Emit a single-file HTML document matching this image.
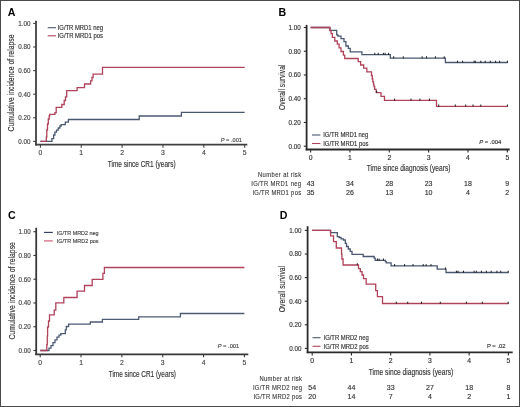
<!DOCTYPE html>
<html><head><meta charset="utf-8"><style>
html,body{margin:0;padding:0;background:#fff;}
body{width:520px;height:407px;overflow:hidden;}
svg{display:block;font-family:"Liberation Sans", sans-serif;will-change:transform;}
</style></head><body>
<svg width="520" height="407" viewBox="0 0 520 407">
<rect x="0" y="0" width="520" height="407" fill="#fff"/>
<g>
<rect x="0.5" y="0.5" width="519" height="406" fill="none" stroke="#4a4a4a" stroke-width="1"/>
<line x1="36.00" y1="20.80" x2="36.00" y2="145.50" stroke="#404040" stroke-width="1.8"/>
<line x1="35.10" y1="144.70" x2="247.30" y2="144.70" stroke="#404040" stroke-width="1.8"/>
<line x1="33.20" y1="141.40" x2="36.00" y2="141.40" stroke="#404040" stroke-width="1.1"/>
<text x="30.40" y="143.70" font-size="6.8" fill="#444" stroke="#444" stroke-width="0.15" text-anchor="end" textLength="12.20" lengthAdjust="spacingAndGlyphs">0.00</text>
<line x1="33.20" y1="117.80" x2="36.00" y2="117.80" stroke="#404040" stroke-width="1.1"/>
<text x="30.40" y="120.10" font-size="6.8" fill="#444" stroke="#444" stroke-width="0.15" text-anchor="end" textLength="12.20" lengthAdjust="spacingAndGlyphs">0.20</text>
<line x1="33.20" y1="94.20" x2="36.00" y2="94.20" stroke="#404040" stroke-width="1.1"/>
<text x="30.40" y="96.50" font-size="6.8" fill="#444" stroke="#444" stroke-width="0.15" text-anchor="end" textLength="12.20" lengthAdjust="spacingAndGlyphs">0.40</text>
<line x1="33.20" y1="70.60" x2="36.00" y2="70.60" stroke="#404040" stroke-width="1.1"/>
<text x="30.40" y="72.90" font-size="6.8" fill="#444" stroke="#444" stroke-width="0.15" text-anchor="end" textLength="12.20" lengthAdjust="spacingAndGlyphs">0.60</text>
<line x1="33.20" y1="47.00" x2="36.00" y2="47.00" stroke="#404040" stroke-width="1.1"/>
<text x="30.40" y="49.30" font-size="6.8" fill="#444" stroke="#444" stroke-width="0.15" text-anchor="end" textLength="12.20" lengthAdjust="spacingAndGlyphs">0.80</text>
<line x1="33.20" y1="23.40" x2="36.00" y2="23.40" stroke="#404040" stroke-width="1.1"/>
<text x="30.40" y="25.70" font-size="6.8" fill="#444" stroke="#444" stroke-width="0.15" text-anchor="end" textLength="12.20" lengthAdjust="spacingAndGlyphs">1.00</text>
<line x1="40.40" y1="144.70" x2="40.40" y2="147.70" stroke="#404040" stroke-width="1.1"/>
<text x="40.40" y="155.30" font-size="6.8" fill="#444" stroke="#444" stroke-width="0.15" text-anchor="middle">0</text>
<line x1="81.26" y1="144.70" x2="81.26" y2="147.70" stroke="#404040" stroke-width="1.1"/>
<text x="81.26" y="155.30" font-size="6.8" fill="#444" stroke="#444" stroke-width="0.15" text-anchor="middle">1</text>
<line x1="122.12" y1="144.70" x2="122.12" y2="147.70" stroke="#404040" stroke-width="1.1"/>
<text x="122.12" y="155.30" font-size="6.8" fill="#444" stroke="#444" stroke-width="0.15" text-anchor="middle">2</text>
<line x1="162.98" y1="144.70" x2="162.98" y2="147.70" stroke="#404040" stroke-width="1.1"/>
<text x="162.98" y="155.30" font-size="6.8" fill="#444" stroke="#444" stroke-width="0.15" text-anchor="middle">3</text>
<line x1="203.84" y1="144.70" x2="203.84" y2="147.70" stroke="#404040" stroke-width="1.1"/>
<text x="203.84" y="155.30" font-size="6.8" fill="#444" stroke="#444" stroke-width="0.15" text-anchor="middle">4</text>
<line x1="244.70" y1="144.70" x2="244.70" y2="147.70" stroke="#404040" stroke-width="1.1"/>
<text x="244.70" y="155.30" font-size="6.8" fill="#444" stroke="#444" stroke-width="0.15" text-anchor="middle">5</text>
<text x="107.80" y="166.60" font-size="8.6" fill="#333" stroke="#333" stroke-width="0.15" textLength="67.80" lengthAdjust="spacingAndGlyphs">Time since CR1 (years)</text>
<text x="0" y="0" font-size="8.6" fill="#333" stroke="#333" stroke-width="0.15" text-anchor="middle" textLength="97.00" lengthAdjust="spacingAndGlyphs" transform="translate(14.10,83.00) rotate(-90)">Cumulative incidence of relapse</text>
<line x1="47.70" y1="27.70" x2="56.00" y2="27.70" stroke="#4a5872" stroke-width="1.1"/>
<text x="57.70" y="29.80" font-size="6.4" fill="#333" stroke="#333" stroke-width="0.15" textLength="45.30" lengthAdjust="spacingAndGlyphs">IG/TR MRD1 neg</text>
<line x1="47.70" y1="35.80" x2="56.00" y2="35.80" stroke="#b0435a" stroke-width="1.1"/>
<text x="57.70" y="37.90" font-size="6.4" fill="#333" stroke="#333" stroke-width="0.15" textLength="45.30" lengthAdjust="spacingAndGlyphs">IG/TR MRD1 pos</text>
<text x="241.90" y="141.70" font-size="6.0" fill="#444" stroke="#444" stroke-width="0.15" text-anchor="end" textLength="21.10" lengthAdjust="spacingAndGlyphs"><tspan font-style="italic">P</tspan> = .001</text>
<text x="7.80" y="15.70" font-size="10.6" fill="#000" font-weight="bold">A</text>
<line x1="306.60" y1="24.90" x2="306.60" y2="150.30" stroke="#2a2a2a" stroke-width="1.8"/>
<line x1="305.70" y1="149.50" x2="509.70" y2="149.50" stroke="#2a2a2a" stroke-width="1.8"/>
<line x1="303.80" y1="146.20" x2="306.60" y2="146.20" stroke="#2a2a2a" stroke-width="1.1"/>
<text x="300.80" y="148.50" font-size="6.8" fill="#333" stroke="#333" stroke-width="0.15" text-anchor="end" textLength="12.20" lengthAdjust="spacingAndGlyphs">0.00</text>
<line x1="303.80" y1="122.46" x2="306.60" y2="122.46" stroke="#2a2a2a" stroke-width="1.1"/>
<text x="300.80" y="124.76" font-size="6.8" fill="#333" stroke="#333" stroke-width="0.15" text-anchor="end" textLength="12.20" lengthAdjust="spacingAndGlyphs">0.20</text>
<line x1="303.80" y1="98.72" x2="306.60" y2="98.72" stroke="#2a2a2a" stroke-width="1.1"/>
<text x="300.80" y="101.02" font-size="6.8" fill="#333" stroke="#333" stroke-width="0.15" text-anchor="end" textLength="12.20" lengthAdjust="spacingAndGlyphs">0.40</text>
<line x1="303.80" y1="74.98" x2="306.60" y2="74.98" stroke="#2a2a2a" stroke-width="1.1"/>
<text x="300.80" y="77.28" font-size="6.8" fill="#333" stroke="#333" stroke-width="0.15" text-anchor="end" textLength="12.20" lengthAdjust="spacingAndGlyphs">0.60</text>
<line x1="303.80" y1="51.24" x2="306.60" y2="51.24" stroke="#2a2a2a" stroke-width="1.1"/>
<text x="300.80" y="53.54" font-size="6.8" fill="#333" stroke="#333" stroke-width="0.15" text-anchor="end" textLength="12.20" lengthAdjust="spacingAndGlyphs">0.80</text>
<line x1="303.80" y1="27.50" x2="306.60" y2="27.50" stroke="#2a2a2a" stroke-width="1.1"/>
<text x="300.80" y="29.80" font-size="6.8" fill="#333" stroke="#333" stroke-width="0.15" text-anchor="end" textLength="12.20" lengthAdjust="spacingAndGlyphs">1.00</text>
<line x1="310.60" y1="149.50" x2="310.60" y2="152.50" stroke="#2a2a2a" stroke-width="1.1"/>
<text x="310.60" y="159.70" font-size="6.8" fill="#333" stroke="#333" stroke-width="0.15" text-anchor="middle">0</text>
<line x1="349.94" y1="149.50" x2="349.94" y2="152.50" stroke="#2a2a2a" stroke-width="1.1"/>
<text x="349.94" y="159.70" font-size="6.8" fill="#333" stroke="#333" stroke-width="0.15" text-anchor="middle">1</text>
<line x1="389.28" y1="149.50" x2="389.28" y2="152.50" stroke="#2a2a2a" stroke-width="1.1"/>
<text x="389.28" y="159.70" font-size="6.8" fill="#333" stroke="#333" stroke-width="0.15" text-anchor="middle">2</text>
<line x1="428.62" y1="149.50" x2="428.62" y2="152.50" stroke="#2a2a2a" stroke-width="1.1"/>
<text x="428.62" y="159.70" font-size="6.8" fill="#333" stroke="#333" stroke-width="0.15" text-anchor="middle">3</text>
<line x1="467.96" y1="149.50" x2="467.96" y2="152.50" stroke="#2a2a2a" stroke-width="1.1"/>
<text x="467.96" y="159.70" font-size="6.8" fill="#333" stroke="#333" stroke-width="0.15" text-anchor="middle">4</text>
<line x1="507.30" y1="149.50" x2="507.30" y2="152.50" stroke="#2a2a2a" stroke-width="1.1"/>
<text x="507.30" y="159.70" font-size="6.8" fill="#333" stroke="#333" stroke-width="0.15" text-anchor="middle">5</text>
<text x="366.70" y="171.20" font-size="8.6" fill="#333" stroke="#333" stroke-width="0.15" textLength="83.70" lengthAdjust="spacingAndGlyphs">Time since diagnosis (years)</text>
<text x="0" y="0" font-size="8.6" fill="#333" stroke="#333" stroke-width="0.15" text-anchor="middle" textLength="45.30" lengthAdjust="spacingAndGlyphs" transform="translate(284.80,87.35) rotate(-90)">Overall survival</text>
<line x1="312.00" y1="135.00" x2="320.40" y2="135.00" stroke="#4a5872" stroke-width="1.1"/>
<text x="323.20" y="137.20" font-size="6.4" fill="#333" stroke="#333" stroke-width="0.15" textLength="45.20" lengthAdjust="spacingAndGlyphs">IG/TR MRD1 neg</text>
<line x1="312.00" y1="143.50" x2="320.40" y2="143.50" stroke="#b0435a" stroke-width="1.1"/>
<text x="323.20" y="145.60" font-size="6.4" fill="#333" stroke="#333" stroke-width="0.15" textLength="45.20" lengthAdjust="spacingAndGlyphs">IG/TR MRD1 pos</text>
<text x="501.20" y="143.70" font-size="6.0" fill="#333" stroke="#333" stroke-width="0.15" text-anchor="end" textLength="22.00" lengthAdjust="spacingAndGlyphs"><tspan font-style="italic">P</tspan> = .004</text>
<text x="278.60" y="15.70" font-size="10.6" fill="#000" font-weight="bold">B</text>
<line x1="36.20" y1="227.80" x2="36.20" y2="355.10" stroke="#383838" stroke-width="1.8"/>
<line x1="35.30" y1="354.30" x2="248.30" y2="354.30" stroke="#383838" stroke-width="1.8"/>
<line x1="33.40" y1="350.50" x2="36.20" y2="350.50" stroke="#383838" stroke-width="1.1"/>
<text x="30.70" y="352.80" font-size="6.8" fill="#444" stroke="#444" stroke-width="0.15" text-anchor="end" textLength="12.20" lengthAdjust="spacingAndGlyphs">0.00</text>
<line x1="33.40" y1="326.74" x2="36.20" y2="326.74" stroke="#383838" stroke-width="1.1"/>
<text x="30.70" y="329.04" font-size="6.8" fill="#444" stroke="#444" stroke-width="0.15" text-anchor="end" textLength="12.20" lengthAdjust="spacingAndGlyphs">0.20</text>
<line x1="33.40" y1="302.98" x2="36.20" y2="302.98" stroke="#383838" stroke-width="1.1"/>
<text x="30.70" y="305.28" font-size="6.8" fill="#444" stroke="#444" stroke-width="0.15" text-anchor="end" textLength="12.20" lengthAdjust="spacingAndGlyphs">0.40</text>
<line x1="33.40" y1="279.22" x2="36.20" y2="279.22" stroke="#383838" stroke-width="1.1"/>
<text x="30.70" y="281.52" font-size="6.8" fill="#444" stroke="#444" stroke-width="0.15" text-anchor="end" textLength="12.20" lengthAdjust="spacingAndGlyphs">0.60</text>
<line x1="33.40" y1="255.46" x2="36.20" y2="255.46" stroke="#383838" stroke-width="1.1"/>
<text x="30.70" y="257.76" font-size="6.8" fill="#444" stroke="#444" stroke-width="0.15" text-anchor="end" textLength="12.20" lengthAdjust="spacingAndGlyphs">0.80</text>
<line x1="33.40" y1="231.70" x2="36.20" y2="231.70" stroke="#383838" stroke-width="1.1"/>
<text x="30.70" y="234.00" font-size="6.8" fill="#444" stroke="#444" stroke-width="0.15" text-anchor="end" textLength="12.20" lengthAdjust="spacingAndGlyphs">1.00</text>
<line x1="40.20" y1="354.30" x2="40.20" y2="357.30" stroke="#383838" stroke-width="1.1"/>
<text x="40.20" y="364.80" font-size="6.8" fill="#444" stroke="#444" stroke-width="0.15" text-anchor="middle">0</text>
<line x1="81.04" y1="354.30" x2="81.04" y2="357.30" stroke="#383838" stroke-width="1.1"/>
<text x="81.04" y="364.80" font-size="6.8" fill="#444" stroke="#444" stroke-width="0.15" text-anchor="middle">1</text>
<line x1="121.88" y1="354.30" x2="121.88" y2="357.30" stroke="#383838" stroke-width="1.1"/>
<text x="121.88" y="364.80" font-size="6.8" fill="#444" stroke="#444" stroke-width="0.15" text-anchor="middle">2</text>
<line x1="162.72" y1="354.30" x2="162.72" y2="357.30" stroke="#383838" stroke-width="1.1"/>
<text x="162.72" y="364.80" font-size="6.8" fill="#444" stroke="#444" stroke-width="0.15" text-anchor="middle">3</text>
<line x1="203.56" y1="354.30" x2="203.56" y2="357.30" stroke="#383838" stroke-width="1.1"/>
<text x="203.56" y="364.80" font-size="6.8" fill="#444" stroke="#444" stroke-width="0.15" text-anchor="middle">4</text>
<line x1="244.40" y1="354.30" x2="244.40" y2="357.30" stroke="#383838" stroke-width="1.1"/>
<text x="244.40" y="364.80" font-size="6.8" fill="#444" stroke="#444" stroke-width="0.15" text-anchor="middle">5</text>
<text x="108.70" y="376.90" font-size="8.6" fill="#333" stroke="#333" stroke-width="0.15" textLength="67.30" lengthAdjust="spacingAndGlyphs">Time since CR1 (years)</text>
<text x="0" y="0" font-size="8.6" fill="#333" stroke="#333" stroke-width="0.15" text-anchor="middle" textLength="97.50" lengthAdjust="spacingAndGlyphs" transform="translate(14.60,290.85) rotate(-90)">Cumulative incidence of relapse</text>
<line x1="44.00" y1="232.40" x2="52.80" y2="232.40" stroke="#2c3560" stroke-width="1.1"/>
<text x="56.80" y="234.70" font-size="5.8" fill="#444" stroke="#444" stroke-width="0.15" textLength="41.70" lengthAdjust="spacingAndGlyphs">IG/TR MRD2 neg</text>
<line x1="44.00" y1="240.90" x2="52.80" y2="240.90" stroke="#d0506e" stroke-width="1.1"/>
<text x="56.80" y="243.20" font-size="5.8" fill="#444" stroke="#444" stroke-width="0.15" textLength="41.70" lengthAdjust="spacingAndGlyphs">IG/TR MRD2 pos</text>
<text x="239.20" y="347.70" font-size="6.0" fill="#444" stroke="#444" stroke-width="0.15" text-anchor="end" textLength="21.50" lengthAdjust="spacingAndGlyphs"><tspan font-style="italic">P</tspan> = .001</text>
<text x="7.90" y="219.30" font-size="10.6" fill="#000" font-weight="bold">C</text>
<line x1="307.60" y1="226.20" x2="307.60" y2="353.20" stroke="#2a2a2a" stroke-width="1.8"/>
<line x1="306.70" y1="352.40" x2="512.70" y2="352.40" stroke="#2a2a2a" stroke-width="1.8"/>
<line x1="304.80" y1="348.40" x2="307.60" y2="348.40" stroke="#2a2a2a" stroke-width="1.1"/>
<text x="301.50" y="350.70" font-size="6.8" fill="#333" stroke="#333" stroke-width="0.15" text-anchor="end" textLength="12.20" lengthAdjust="spacingAndGlyphs">0.00</text>
<line x1="304.80" y1="324.80" x2="307.60" y2="324.80" stroke="#2a2a2a" stroke-width="1.1"/>
<text x="301.50" y="327.10" font-size="6.8" fill="#333" stroke="#333" stroke-width="0.15" text-anchor="end" textLength="12.20" lengthAdjust="spacingAndGlyphs">0.20</text>
<line x1="304.80" y1="301.20" x2="307.60" y2="301.20" stroke="#2a2a2a" stroke-width="1.1"/>
<text x="301.50" y="303.50" font-size="6.8" fill="#333" stroke="#333" stroke-width="0.15" text-anchor="end" textLength="12.20" lengthAdjust="spacingAndGlyphs">0.40</text>
<line x1="304.80" y1="277.60" x2="307.60" y2="277.60" stroke="#2a2a2a" stroke-width="1.1"/>
<text x="301.50" y="279.90" font-size="6.8" fill="#333" stroke="#333" stroke-width="0.15" text-anchor="end" textLength="12.20" lengthAdjust="spacingAndGlyphs">0.60</text>
<line x1="304.80" y1="254.00" x2="307.60" y2="254.00" stroke="#2a2a2a" stroke-width="1.1"/>
<text x="301.50" y="256.30" font-size="6.8" fill="#333" stroke="#333" stroke-width="0.15" text-anchor="end" textLength="12.20" lengthAdjust="spacingAndGlyphs">0.80</text>
<line x1="304.80" y1="230.40" x2="307.60" y2="230.40" stroke="#2a2a2a" stroke-width="1.1"/>
<text x="301.50" y="232.70" font-size="6.8" fill="#333" stroke="#333" stroke-width="0.15" text-anchor="end" textLength="12.20" lengthAdjust="spacingAndGlyphs">1.00</text>
<line x1="312.20" y1="352.40" x2="312.20" y2="355.40" stroke="#2a2a2a" stroke-width="1.1"/>
<text x="312.20" y="362.70" font-size="6.8" fill="#333" stroke="#333" stroke-width="0.15" text-anchor="middle">0</text>
<line x1="351.44" y1="352.40" x2="351.44" y2="355.40" stroke="#2a2a2a" stroke-width="1.1"/>
<text x="351.44" y="362.70" font-size="6.8" fill="#333" stroke="#333" stroke-width="0.15" text-anchor="middle">1</text>
<line x1="390.68" y1="352.40" x2="390.68" y2="355.40" stroke="#2a2a2a" stroke-width="1.1"/>
<text x="390.68" y="362.70" font-size="6.8" fill="#333" stroke="#333" stroke-width="0.15" text-anchor="middle">2</text>
<line x1="429.92" y1="352.40" x2="429.92" y2="355.40" stroke="#2a2a2a" stroke-width="1.1"/>
<text x="429.92" y="362.70" font-size="6.8" fill="#333" stroke="#333" stroke-width="0.15" text-anchor="middle">3</text>
<line x1="469.16" y1="352.40" x2="469.16" y2="355.40" stroke="#2a2a2a" stroke-width="1.1"/>
<text x="469.16" y="362.70" font-size="6.8" fill="#333" stroke="#333" stroke-width="0.15" text-anchor="middle">4</text>
<line x1="508.40" y1="352.40" x2="508.40" y2="355.40" stroke="#2a2a2a" stroke-width="1.1"/>
<text x="508.40" y="362.70" font-size="6.8" fill="#333" stroke="#333" stroke-width="0.15" text-anchor="middle">5</text>
<text x="368.70" y="375.40" font-size="8.6" fill="#333" stroke="#333" stroke-width="0.15" textLength="84.60" lengthAdjust="spacingAndGlyphs">Time since diagnosis (years)</text>
<text x="0" y="0" font-size="8.6" fill="#333" stroke="#333" stroke-width="0.15" text-anchor="middle" textLength="46.30" lengthAdjust="spacingAndGlyphs" transform="translate(285.00,289.05) rotate(-90)">Overall survival</text>
<line x1="312.50" y1="337.70" x2="320.50" y2="337.70" stroke="#4a5872" stroke-width="1.1"/>
<text x="323.50" y="340.00" font-size="6.4" fill="#333" stroke="#333" stroke-width="0.15" textLength="45.30" lengthAdjust="spacingAndGlyphs">IG/TR MRD2 neg</text>
<line x1="312.50" y1="346.30" x2="320.50" y2="346.30" stroke="#b0435a" stroke-width="1.1"/>
<text x="323.50" y="348.60" font-size="6.4" fill="#333" stroke="#333" stroke-width="0.15" textLength="45.30" lengthAdjust="spacingAndGlyphs">IG/TR MRD2 pos</text>
<text x="505.60" y="347.60" font-size="6.0" fill="#333" stroke="#333" stroke-width="0.15" text-anchor="end" textLength="18.70" lengthAdjust="spacingAndGlyphs"><tspan font-style="normal">P</tspan> = .02</text>
<text x="279.80" y="218.90" font-size="10.6" fill="#000" font-weight="bold">D</text>
<path d="M40.40 141.40H51.90V138.70H53.60V135.00H54.90V132.20H56.50V130.10H58.20V128.00H59.90V126.00H61.10V124.60H65.30V122.10H68.40V119.50H139.20V116.00H181.40V112.30H244.70" fill="none" stroke="#4a5872" stroke-width="1.3"/>
<path d="M40.40 141.40H46.30V137.00H46.80V130.00H47.50V124.00H48.30V119.00H49.20V116.00H49.70V114.40H54.90V112.60H56.20V107.30H61.80V104.50H64.20V100.50H65.50V96.90H66.70V90.70H77.10V87.60H84.50V84.00H90.60V80.90H92.00V77.50H93.10V74.10H102.50V67.30H244.70" fill="none" stroke="#b0435a" stroke-width="1.3"/>
<path d="M310.60 27.50H329.90V30.40H336.70V34.90H337.90V36.10H341.00V38.60H344.00V41.70H345.90V46.00H348.30V48.40H350.20V51.90H361.90V54.60H390.30V58.10H445.40V62.50H507.70" fill="none" stroke="#4a5872" stroke-width="1.3"/>
<path d="M310.60 27.50H329.90V30.60H331.10V33.70H332.40V37.40H334.80V41.00H337.30V44.10H339.10V47.80H341.00V51.50H343.40V55.20H344.70V58.50H358.20V61.70H360.60V65.00H363.70V68.20H366.80V71.80H371.50V75.50H372.30V79.00H372.80V81.80H373.50V84.50H374.00V86.50H374.70V89.30H376.20V92.60H381.00V96.30H384.50V100.40H436.50V106.30H507.70" fill="none" stroke="#b0435a" stroke-width="1.3"/>
<rect x="376.10" y="90.80" width="1.0" height="2.0" fill="#1a1a1a"/>
<rect x="394.10" y="98.60" width="1.0" height="2.0" fill="#1a1a1a"/>
<rect x="410.50" y="98.60" width="1.0" height="2.0" fill="#1a1a1a"/>
<rect x="419.40" y="98.60" width="1.0" height="2.0" fill="#1a1a1a"/>
<rect x="428.90" y="98.60" width="1.0" height="2.0" fill="#1a1a1a"/>
<rect x="438.20" y="104.50" width="1.0" height="2.0" fill="#1a1a1a"/>
<rect x="454.80" y="104.50" width="1.0" height="2.0" fill="#1a1a1a"/>
<rect x="465.20" y="104.50" width="1.0" height="2.0" fill="#1a1a1a"/>
<rect x="472.50" y="104.50" width="1.0" height="2.0" fill="#1a1a1a"/>
<rect x="480.30" y="104.50" width="1.0" height="2.0" fill="#1a1a1a"/>
<rect x="506.90" y="104.50" width="1.0" height="2.0" fill="#1a1a1a"/>
<rect x="374.30" y="52.80" width="1.0" height="2.0" fill="#1a1a1a"/>
<rect x="377.70" y="52.80" width="1.0" height="2.0" fill="#1a1a1a"/>
<rect x="382.90" y="52.80" width="1.0" height="2.0" fill="#1a1a1a"/>
<rect x="384.60" y="52.80" width="1.0" height="2.0" fill="#1a1a1a"/>
<rect x="388.10" y="52.80" width="1.0" height="2.0" fill="#1a1a1a"/>
<rect x="393.20" y="56.30" width="1.0" height="2.0" fill="#1a1a1a"/>
<rect x="402.80" y="56.30" width="1.0" height="2.0" fill="#1a1a1a"/>
<rect x="421.60" y="56.30" width="1.0" height="2.0" fill="#1a1a1a"/>
<rect x="426.00" y="56.30" width="1.0" height="2.0" fill="#1a1a1a"/>
<rect x="434.90" y="56.30" width="1.0" height="2.0" fill="#1a1a1a"/>
<rect x="443.70" y="56.30" width="1.0" height="2.0" fill="#1a1a1a"/>
<rect x="457.00" y="60.70" width="1.0" height="2.0" fill="#1a1a1a"/>
<rect x="462.10" y="60.70" width="1.0" height="2.0" fill="#1a1a1a"/>
<rect x="473.60" y="60.70" width="1.0" height="2.0" fill="#1a1a1a"/>
<rect x="474.70" y="60.70" width="1.0" height="2.0" fill="#1a1a1a"/>
<rect x="480.30" y="60.70" width="1.0" height="2.0" fill="#1a1a1a"/>
<rect x="484.70" y="60.70" width="1.0" height="2.0" fill="#1a1a1a"/>
<rect x="489.80" y="60.70" width="1.0" height="2.0" fill="#1a1a1a"/>
<rect x="495.10" y="60.70" width="1.0" height="2.0" fill="#1a1a1a"/>
<rect x="499.10" y="60.70" width="1.0" height="2.0" fill="#1a1a1a"/>
<rect x="506.90" y="60.70" width="1.0" height="2.0" fill="#1a1a1a"/>
<path d="M40.20 350.50H49.00V348.20H51.00V345.60H53.00V342.60H55.00V339.80H57.00V337.20H59.00V335.20H60.80V333.60H65.30V329.80H66.30V326.50H68.60V324.20H90.30V322.00H102.40V319.40H138.70V316.80H180.40V313.50H244.40" fill="none" stroke="#4d5a74" stroke-width="1.3"/>
<path d="M40.20 350.50H46.80V344.60H47.30V336.00H47.60V327.00H48.50V321.00H49.50V314.90H54.20V310.10H55.80V302.90H63.80V297.50H77.10V291.10H84.50V285.50H92.20V279.30H102.90V273.40H104.40V267.50H244.40" fill="none" stroke="#b0435a" stroke-width="1.3"/>
<path d="M312.20 230.40H330.50V232.60H337.30V236.70H339.10V237.50H341.00V238.80H343.40V240.00H345.30V243.40H346.50V246.50H348.30V249.00H350.20V251.40H352.00V254.30H363.20V256.50H374.20V258.20H375.20V260.30H385.40V261.60H386.30V262.80H391.10V265.90H437.20V269.20H446.00V272.50H508.60" fill="none" stroke="#4a5872" stroke-width="1.3"/>
<path d="M312.20 230.40H330.60V235.90H333.50V241.60H336.30V248.00H341.50V254.00H341.90V259.00H343.10V265.00H358.50V268.60H360.30V271.70H362.00V275.00H363.50V278.60H366.20V284.20H375.70V290.60H377.40V296.60H382.50V303.50H508.60" fill="none" stroke="#b0435a" stroke-width="1.3"/>
<rect x="356.80" y="263.20" width="1.0" height="2.0" fill="#1a1a1a"/>
<rect x="395.80" y="301.70" width="1.0" height="2.0" fill="#1a1a1a"/>
<rect x="407.20" y="301.70" width="1.0" height="2.0" fill="#1a1a1a"/>
<rect x="421.00" y="301.70" width="1.0" height="2.0" fill="#1a1a1a"/>
<rect x="439.80" y="301.70" width="1.0" height="2.0" fill="#1a1a1a"/>
<rect x="465.90" y="301.70" width="1.0" height="2.0" fill="#1a1a1a"/>
<rect x="481.80" y="301.70" width="1.0" height="2.0" fill="#1a1a1a"/>
<rect x="507.70" y="301.70" width="1.0" height="2.0" fill="#1a1a1a"/>
<rect x="376.90" y="258.50" width="1.0" height="2.0" fill="#1a1a1a"/>
<rect x="378.60" y="258.50" width="1.0" height="2.0" fill="#1a1a1a"/>
<rect x="382.90" y="258.50" width="1.0" height="2.0" fill="#1a1a1a"/>
<rect x="394.10" y="264.10" width="1.0" height="2.0" fill="#1a1a1a"/>
<rect x="404.10" y="264.10" width="1.0" height="2.0" fill="#1a1a1a"/>
<rect x="412.50" y="264.10" width="1.0" height="2.0" fill="#1a1a1a"/>
<rect x="422.70" y="264.10" width="1.0" height="2.0" fill="#1a1a1a"/>
<rect x="425.60" y="264.10" width="1.0" height="2.0" fill="#1a1a1a"/>
<rect x="430.50" y="264.10" width="1.0" height="2.0" fill="#1a1a1a"/>
<rect x="444.90" y="267.40" width="1.0" height="2.0" fill="#1a1a1a"/>
<rect x="455.90" y="270.70" width="1.0" height="2.0" fill="#1a1a1a"/>
<rect x="457.50" y="270.70" width="1.0" height="2.0" fill="#1a1a1a"/>
<rect x="463.00" y="270.70" width="1.0" height="2.0" fill="#1a1a1a"/>
<rect x="473.60" y="270.70" width="1.0" height="2.0" fill="#1a1a1a"/>
<rect x="475.80" y="270.70" width="1.0" height="2.0" fill="#1a1a1a"/>
<rect x="480.90" y="270.70" width="1.0" height="2.0" fill="#1a1a1a"/>
<rect x="485.80" y="270.70" width="1.0" height="2.0" fill="#1a1a1a"/>
<rect x="490.70" y="270.70" width="1.0" height="2.0" fill="#1a1a1a"/>
<rect x="496.40" y="270.70" width="1.0" height="2.0" fill="#1a1a1a"/>
<rect x="500.20" y="270.70" width="1.0" height="2.0" fill="#1a1a1a"/>
<rect x="507.70" y="270.70" width="1.0" height="2.0" fill="#1a1a1a"/>
<text x="0" y="0" transform="translate(301.10,177.00) scale(0.9,1)" font-size="6.5" fill="#333" stroke="#333" stroke-width="0.1" text-anchor="end" textLength="47.89" lengthAdjust="spacing">Number at risk</text>
<text x="0" y="0" transform="translate(301.10,185.80) scale(0.9,1)" font-size="6.5" fill="#333" stroke="#333" stroke-width="0.1" text-anchor="end" textLength="55.44" lengthAdjust="spacing">IG/TR MRD1 neg</text>
<text x="0" y="0" transform="translate(301.10,194.60) scale(0.9,1)" font-size="6.5" fill="#333" stroke="#333" stroke-width="0.1" text-anchor="end" textLength="54.11" lengthAdjust="spacing">IG/TR MRD1 pos</text>
<text x="310.60" y="185.90" font-size="7.0" fill="#333" stroke="#333" stroke-width="0.15" text-anchor="middle">43</text>
<text x="349.94" y="185.90" font-size="7.0" fill="#333" stroke="#333" stroke-width="0.15" text-anchor="middle">34</text>
<text x="389.28" y="185.90" font-size="7.0" fill="#333" stroke="#333" stroke-width="0.15" text-anchor="middle">28</text>
<text x="428.62" y="185.90" font-size="7.0" fill="#333" stroke="#333" stroke-width="0.15" text-anchor="middle">23</text>
<text x="467.96" y="185.90" font-size="7.0" fill="#333" stroke="#333" stroke-width="0.15" text-anchor="middle">18</text>
<text x="507.30" y="185.90" font-size="7.0" fill="#333" stroke="#333" stroke-width="0.15" text-anchor="middle">9</text>
<text x="310.60" y="194.60" font-size="7.0" fill="#333" stroke="#333" stroke-width="0.15" text-anchor="middle">35</text>
<text x="349.94" y="194.60" font-size="7.0" fill="#333" stroke="#333" stroke-width="0.15" text-anchor="middle">26</text>
<text x="389.28" y="194.60" font-size="7.0" fill="#333" stroke="#333" stroke-width="0.15" text-anchor="middle">13</text>
<text x="428.62" y="194.60" font-size="7.0" fill="#333" stroke="#333" stroke-width="0.15" text-anchor="middle">10</text>
<text x="467.96" y="194.60" font-size="7.0" fill="#333" stroke="#333" stroke-width="0.15" text-anchor="middle">4</text>
<text x="507.30" y="194.60" font-size="7.0" fill="#333" stroke="#333" stroke-width="0.15" text-anchor="middle">2</text>
<text x="0" y="0" transform="translate(302.00,381.20) scale(0.9,1)" font-size="6.5" fill="#333" stroke="#333" stroke-width="0.1" text-anchor="end" textLength="47.33" lengthAdjust="spacing">Number at risk</text>
<text x="0" y="0" transform="translate(302.00,389.60) scale(0.9,1)" font-size="6.5" fill="#333" stroke="#333" stroke-width="0.1" text-anchor="end" textLength="54.56" lengthAdjust="spacing">IG/TR MRD2 neg</text>
<text x="0" y="0" transform="translate(302.00,398.70) scale(0.9,1)" font-size="6.5" fill="#333" stroke="#333" stroke-width="0.1" text-anchor="end" textLength="54.00" lengthAdjust="spacing">IG/TR MRD2 pos</text>
<text x="312.20" y="389.60" font-size="7.0" fill="#333" stroke="#333" stroke-width="0.15" text-anchor="middle">54</text>
<text x="351.44" y="389.60" font-size="7.0" fill="#333" stroke="#333" stroke-width="0.15" text-anchor="middle">44</text>
<text x="390.68" y="389.60" font-size="7.0" fill="#333" stroke="#333" stroke-width="0.15" text-anchor="middle">33</text>
<text x="429.92" y="389.60" font-size="7.0" fill="#333" stroke="#333" stroke-width="0.15" text-anchor="middle">27</text>
<text x="469.16" y="389.60" font-size="7.0" fill="#333" stroke="#333" stroke-width="0.15" text-anchor="middle">18</text>
<text x="508.40" y="389.60" font-size="7.0" fill="#333" stroke="#333" stroke-width="0.15" text-anchor="middle">8</text>
<text x="312.20" y="398.60" font-size="7.0" fill="#333" stroke="#333" stroke-width="0.15" text-anchor="middle">20</text>
<text x="351.44" y="398.60" font-size="7.0" fill="#333" stroke="#333" stroke-width="0.15" text-anchor="middle">14</text>
<text x="390.68" y="398.60" font-size="7.0" fill="#333" stroke="#333" stroke-width="0.15" text-anchor="middle">7</text>
<text x="429.92" y="398.60" font-size="7.0" fill="#333" stroke="#333" stroke-width="0.15" text-anchor="middle">4</text>
<text x="469.16" y="398.60" font-size="7.0" fill="#333" stroke="#333" stroke-width="0.15" text-anchor="middle">2</text>
<text x="508.40" y="398.60" font-size="7.0" fill="#333" stroke="#333" stroke-width="0.15" text-anchor="middle">1</text>
</g>
</svg>
</body></html>
